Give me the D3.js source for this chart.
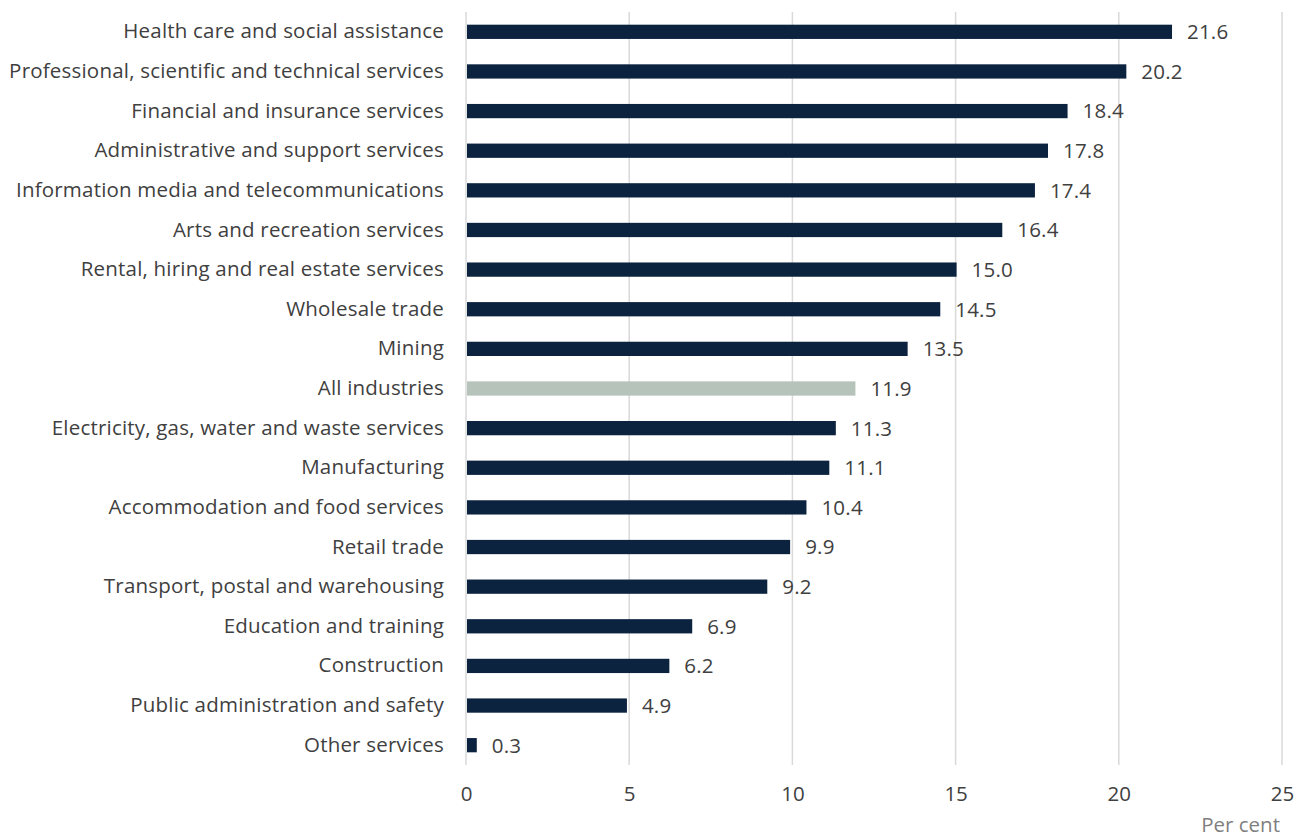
<!DOCTYPE html>
<html>
<head>
<meta charset="utf-8">
<script src="https://cdn.jsdelivr.net/npm/d3@7"></script>
<style>
  html, body { margin: 0; padding: 0; background: #fff; }
  svg text { font-family: "Open Sans", Roboto, sans-serif; }
</style>
</head>
<body>
<div id="chart"></div>
<script>
// categories, top to bottom
const categories = [
  "Health care and social assistance",
  "Professional, scientific and technical services",
  "Financial and insurance services",
  "Administrative and support services",
  "Information media and telecommunications",
  "Arts and recreation services",
  "Rental, hiring and real estate services",
  "Wholesale trade",
  "Mining",
  "All industries",
  "Electricity, gas, water and waste services",
  "Manufacturing",
  "Accommodation and food services",
  "Retail trade",
  "Transport, postal and warehousing",
  "Education and training",
  "Construction",
  "Public administration and safety",
  "Other services"
];
const values = [21.6, 20.2, 18.4, 17.8, 17.4, 16.4, 15.0, 14.5, 13.5, 11.9, 11.3, 11.1, 10.4, 9.9, 9.2, 6.9, 6.2, 4.9, 0.3];
const highlight = ["All industries"];
const xTicks = [0, 5, 10, 15, 20, 25];

const width = 1296, height = 839;
const margin = { top: 12, right: 14, bottom: 74, left: 466 };
const fontSize = 20.5;

const svg = d3.select('#chart').append('svg')
  .attr('width', width)
  .attr('height', height);

const x = d3.scaleLinear()
  .domain([0, 25])
  .range([margin.left, width - margin.right]);

const y = d3.scaleBand()
  .domain(categories)
  .range([margin.top, height - margin.bottom])
  .paddingInner(0.64)
  .paddingOuter(0.32);

// gridlines
svg.append('g')
  .selectAll('line')
  .data(xTicks)
  .join('line')
    .attr('x1', d => x(d)).attr('x2', d => x(d))
    .attr('y1', margin.top).attr('y2', height - margin.bottom)
    .attr('stroke', '#d9d9d9')
    .attr('stroke-width', 1.5);

// bars
svg.append('g')
  .selectAll('rect')
  .data(values)
  .join('rect')
    .attr('x', x(0) + 1)
    .attr('y', (d, i) => y(categories[i]))
    .attr('width', d => x(d) - x(0))
    .attr('height', y.bandwidth())
    .attr('fill', (d, i) => highlight.includes(categories[i]) ? '#b5c3bb' : '#0c2340');

// value labels
svg.append('g')
  .selectAll('text')
  .data(values)
  .join('text')
    .attr('x', d => x(d) + 16)
    .attr('y', (d, i) => y(categories[i]) + y.bandwidth() / 2)
    .attr('dy', '0.36em')
    .attr('font-size', fontSize)
    .attr('letter-spacing', 0.2)
    .attr('fill', '#404040')
    .text(d => d.toFixed(1));

// category axis
svg.append('g')
  .attr('transform', `translate(${margin.left - 8},0)`)
  .call(d3.axisLeft(y).tickSize(0).tickPadding(14))
  .call(g => g.select('.domain').remove())
  .selectAll('text')
    .attr('font-size', fontSize)
    .attr('letter-spacing', 0.2)
    .attr('fill', '#404040');

// value axis
svg.append('g')
  .attr('transform', `translate(0,${height - margin.bottom})`)
  .call(d3.axisBottom(x).tickValues(xTicks).tickSize(0).tickPadding(21))
  .call(g => g.select('.domain').remove())
  .selectAll('text')
    .attr('font-size', fontSize)
    .attr('fill', '#404040');

svg.append('text')
  .attr('x', 1280)
  .attr('y', 832)
  .attr('text-anchor', 'end')
  .attr('font-size', fontSize)
  .attr('fill', '#7f7f7f')
  .text('Per cent');
</script>
</body>
</html>
